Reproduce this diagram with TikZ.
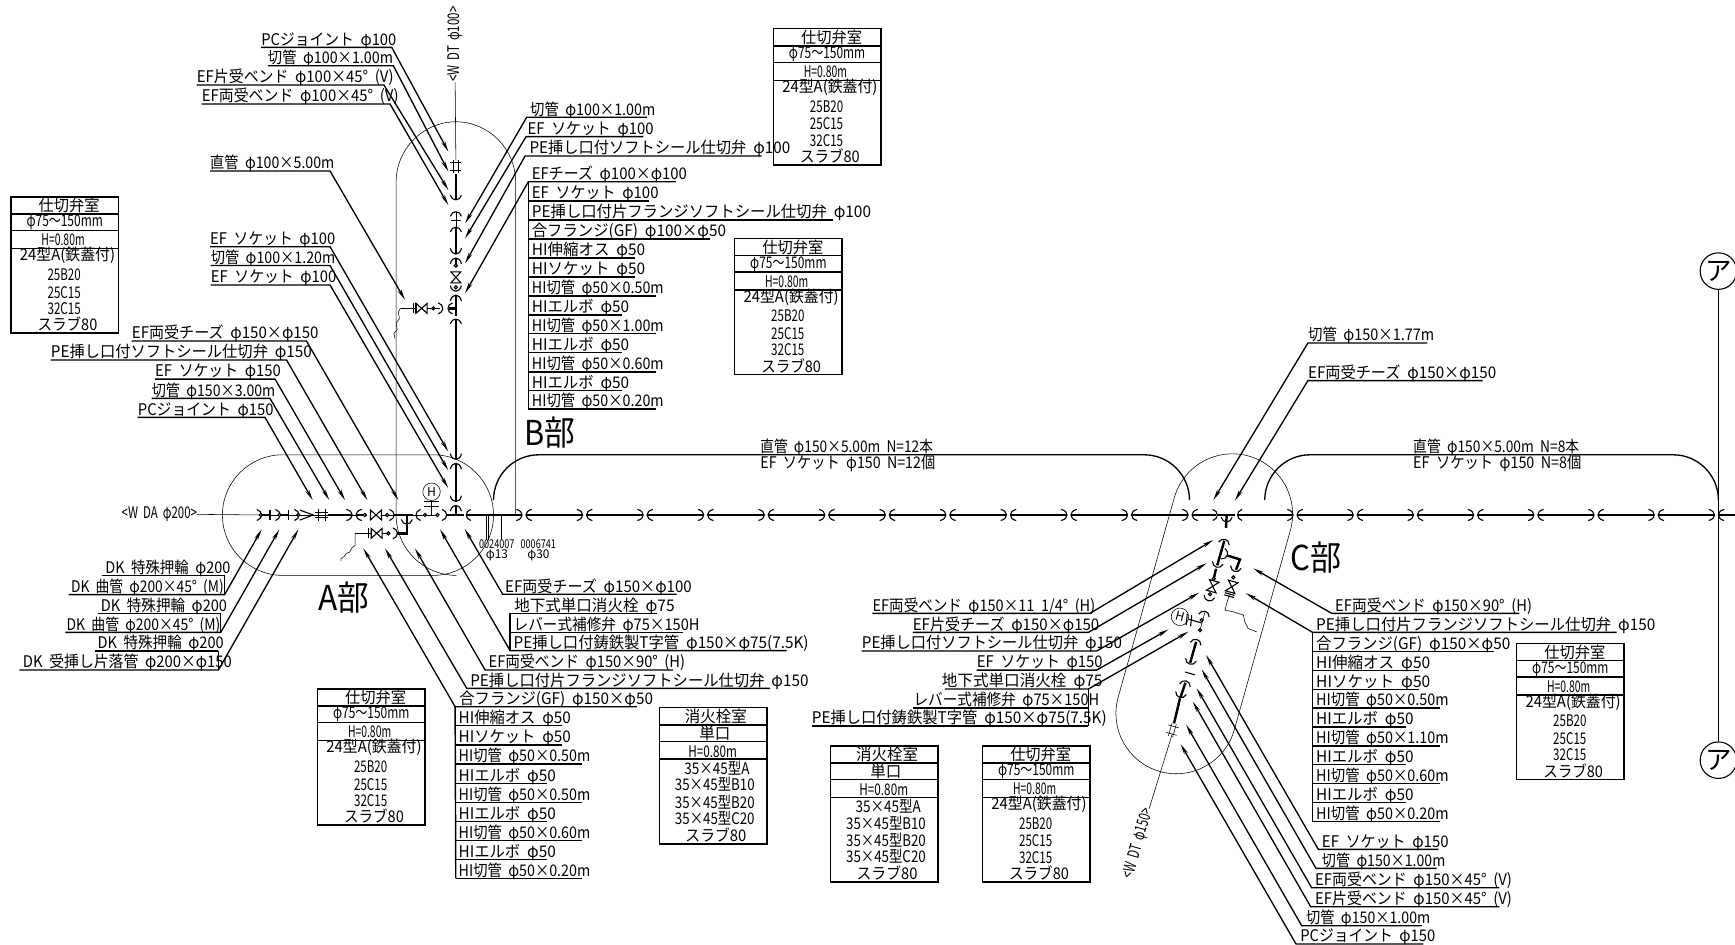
\documentclass[tikz,border=0pt]{standalone}
\usepackage{fontspec}
\usepackage{graphicx}
\setmainfont{Noto Sans CJK JP}
\usetikzlibrary{arrows.meta}

\newcommand{\cadfont}{\fontsize{14.5}{16}\selectfont\spaceskip=.45em\relax}

\tikzset{
  thinline/.style={line width=.5pt},
  ovalline/.style={line width=.5pt, rounded corners=54.5pt},
  bracket/.style={line width=1.2pt, rounded corners=41pt},
  pipe/.style={line width=2.2pt},
  bellline/.style={line width=1pt},
  under/.style={line width=1.3pt},
  leader/.style={line width=1.2pt, -{Stealth[length=10pt,width=3.6pt]}},
  boxline/.style={line width=1.3pt},
  pipelab/.style={anchor=base west, inner sep=0pt, font=\cadfont},
  cell/.style={inner sep=0pt, font=\cadfont},
  bigmark/.style={anchor=base west, inner sep=0pt, font=\fontsize{31}{33}\selectfont},
  smallnum/.style={inner sep=0pt, font=\fontsize{11}{12}\selectfont},
  cpl/.pic={
    \draw[bellline] (-7,-5) .. controls (0,-3.5) and (0,3.5) .. (-7,5);
    \draw[bellline] (7,-5) .. controls (0,-3.5) and (0,3.5) .. (7,5);
  },
  bell/.pic={\draw[bellline] (-3.5,-5) .. controls (2,-3.5) and (2,3.5) .. (-3.5,5);},
  valv/.pic={\draw[bellline, fill=white] (-5,-4.5) -- (5,4.5) -- (5,-4.5) -- (-5,4.5) -- cycle;},
  pdot/.pic={\draw[bellline, fill=white] (0,0) circle (1.4);},
  ptick/.pic={\draw[bellline] (0,-4.5) -- (0,4.5);},
  flng/.pic={\draw[bellline] (-1,-4.5) -- (-1,4.5) (1,-4.5) -- (1,4.5);},
  pcj/.pic={\draw[thinline] (-6,-2) -- (6,-2) (-6,2) -- (6,2) (-3.5,-5) -- (-3.5,5) (3.5,-5) -- (3.5,5);},
}

\newcommand{\putlabel}[5]{%
  \pgfmathsetmacro{\labw}{#3-#2}
  \node[pipelab] (#1) at (#2,#4-2) {\resizebox{\labw pt}{\height}{#5}};
}
\newcommand{\leadleft}[9]{%
  \putlabel{#1}{#2}{#3}{#4}{#9}
  \coordinate (#1-a) at (#5,#4);
  \coordinate (#1-b) at (#6,#4);
  \coordinate (#1-t) at (#7,#8);
  \draw[leader] (#1-b) -- (#1-a) -- (#1-t);
}
\newcommand{\leadright}[9]{%
  \putlabel{#1}{#2}{#3}{#4}{#9}
  \coordinate (#1-a) at (#5,#4);
  \coordinate (#1-b) at (#6,#4);
  \coordinate (#1-t) at (#7,#8);
  \draw[leader] (#1-a) -- (#1-b) -- (#1-t);
}
\newcommand{\stacklab}[7]{%
  \putlabel{#1}{#2}{#3}{#4}{#7}
  \coordinate (#1-a) at (#5,#4);
  \coordinate (#1-b) at (#6,#4);
  \draw[under] (#1-a) -- (#1-b);
}
\newcommand{\cellrow}[5]{\node[cell] (#1) at (#2,#3) {\resizebox{#4pt}{\height}{#5}};}
\newcommand{\roomframe}{%
  \draw[boxline] (0,0) rectangle (97,123);
  \draw[boxline] (0,15.5) -- (97,15.5);
  \draw[boxline] (0,30.5) -- (97,30.5);
  \draw[boxline] (0,46.5) -- (97,46.5);
}
\newcommand{\valvebox}[3]{%
  \begin{scope}[shift={(#2,#3)}]
    \roomframe
    \cellrow{#1-r1}{52.5}{8}{55}{仕切弁室}
    \cellrow{#1-r2}{48.5}{23}{69}{φ75〜150mm}
    \cellrow{#1-r3}{47}{39}{39}{H=0.80m}
    \cellrow{#1-r4}{51}{53}{86}{24型A(鉄蓋付)}
    \cellrow{#1-r5}{48}{70}{30}{25B20}
    \cellrow{#1-r6}{48}{86}{30}{25C15}
    \cellrow{#1-r7}{48}{101}{30}{32C15}
    \cellrow{#1-r8}{51}{115}{54}{スラブ80}
  \end{scope}
}
\newcommand{\hydrantbox}[3]{%
  \begin{scope}[shift={(#2,#3)}]
    \roomframe
    \cellrow{#1-r1}{51}{8}{56}{消火栓室}
    \cellrow{#1-r2}{50}{23.5}{28}{単口}
    \cellrow{#1-r3}{48}{40}{44}{H=0.80m}
    \cellrow{#1-r4}{52}{54.5}{59}{35×45型A}
    \cellrow{#1-r5}{50}{69.5}{72}{35×45型B10}
    \cellrow{#1-r6}{50}{85}{72}{35×45型B20}
    \cellrow{#1-r7}{50}{100}{72}{35×45型C20}
    \cellrow{#1-r8}{51}{115}{55}{スラブ80}
  \end{scope}
}

\begin{document}
\begin{tikzpicture}[x=1pt, y=-1pt]
  \useasboundingbox (0,0) rectangle (1568,854);

  \draw[ovalline] (201,411) rectangle (446,520);
  \draw[ovalline] (466,465.4) -- (466,110) -- (358,110) -- (358,520) -- (412,520);
  \draw[ovalline] (1140.8,569.5) -- (1180.9,426.9) -- (1076,397.4) -- (995.8,682.5) -- (1100.7,712) -- cycle;

  \valvebox{va}{10}{178}
  \valvebox{vb}{699}{26}
  \valvebox{vc}{664}{215.4}
  \valvebox{vd}{287}{622.7}
  \valvebox{ve}{888}{674}
  \valvebox{vf}{1370.7}{581.4}
  \hydrantbox{fa}{596}{639.6}
  \hydrantbox{fb}{750.7}{674}

  % main line
  \node[cell] (wda) at (144,464.5) {\resizebox{68pt}{\height}{<W DA φ200>}};
  \coordinate (ma) at (234,465.4);
  \draw[thinline] (wda) -- (ma);
  \draw[thinline] (ma) -- (332,465.4);
  \draw[thinline] (345,465.4) -- (395,465.4);
  \draw[pipe] (237,465.4) -- (243,465.4);
  \draw[pipe] (254,465.4) -- (260,465.4);
  \draw[pipe] (296.8,465.4) -- (318,465.4);
  \draw[pipe] (322,465.4) -- (328.4,465.4);
  \draw[pipe] (356,465.4) -- (373.6,465.4);
  \draw[pipe] (404,465.4) -- (419,465.4);
  \draw[pipe] (421.6,465.4) -- (471.6,465.4);
  \pic at (235.6,465.4) {bell};
  \pic at (235.6,465.4) {pdot};
  \pic at (244,465.4) {ptick};
  \pic at (252.5,465.4) {bell};
  \pic at (252.5,465.4) {pdot};
  \pic at (260.6,465.4) {ptick};
  \pic at (269.6,465.4) {bell};
  \pic at (269.6,465.4) {pdot};
  \draw[bellline] (271,461) -- (283,465.4) -- (271,470);
  \pic at (290.7,465.4) {pcj};
  \pic at (320,465.4) {cpl};
  \pic at (329.6,465.4) {pdot};
  \pic at (339.8,465.4) {valv};
  \pic at (350,465.4) {pdot};
  \pic at (355.5,465.4) {bell};
  \pic[rotate=180] at (376.6,465.4) {bell};
  \pic at (384,465.4) {pdot};
  \pic at (395.3,465.4) {pdot};
  \pic at (403,465.4) {bell};
  \pic[rotate=180] at (422,465.4) {bell};
  \foreach \k in {0,...,11} {
    \pgfmathsetmacro{\cx}{473.6+54.72*\k}
    \pic at (\cx,465.4) {cpl};
    \ifnum\k<11
      \draw[pipe] (\cx+2,465.4) -- (\cx+52.7,465.4);
    \fi
  }
  \draw[pipe] (1077.5,465.4) -- (1099,465.4);
  \draw[pipe] (1100,465.4) -- (1116,465.4);
  \draw[pipe] (1118.6,465.4) -- (1168.4,465.4);
  \pic at (1099.5,465.4) {bell};
  \pic[rotate=180] at (1119,465.4) {bell};
  \foreach \k in {0,...,7} {
    \pgfmathsetmacro{\cx}{1170.4+54.4*\k}
    \pic at (\cx,465.4) {cpl};
    \draw[pipe] (\cx+2,465.4) -- (\cx+52.4,465.4);
  }

  % A branch
  \draw[pipe] (367.6,465.4) -- (367.6,482) -- (359,482);
  \pic[rotate=-90] at (367.6,473) {bell};
  \pic at (358.5,482) {bell};
  \pic at (351,482) {pdot};
  \draw[thinline] (351,482) -- (334.4,482);
  \pic at (340.4,482) {valv};
  \pic at (334.4,482) {flng};
  \draw[bellline] (334.4,482) -- (321,482);
  \draw[thinline] (321,482) -- (321,493) -- (318,495) -- (316,499) -- (313,500) -- (311,503) -- (308,505) -- (308,507);
  \node[circle, draw, thinline, inner sep=0pt, minimum size=15.8pt, font=\fontsize{11}{12}\selectfont] (ha) at (390,444.4) {H};
  \coordinate (hab) at (390,465.4);
  \draw[bellline] (ha) -- (hab);
  \draw[bellline] (383,453.4) -- (397,453.4);
  \draw[bellline] (383,458) -- (397,458);

  % B line
  \node[cell, rotate=90] (wdb) at (411,40) {\resizebox{68pt}{\height}{<W DT φ100>}};
  \coordinate (mb) at (412,145);
  \draw[thinline] (wdb) -- (mb);
  \pic[rotate=-90] at (412,150.6) {pcj};
  \draw[pipe] (412,157) -- (412,180);
  \pic[rotate=-90] at (412,180) {bell};
  \pic[rotate=90] at (412,192) {bell};
  \pic[rotate=-90] at (412,199) {ptick};
  \draw[thinline] (412,192) -- (412,206);
  \pic[rotate=90] at (412,206) {bell};
  \draw[pipe] (412,206) -- (412,229.4);
  \pic[rotate=-90] at (412,231.4) {cpl};
  \draw[pipe] (412,233.4) -- (412,240);
  \pic at (412,240) {pdot};
  \pic[rotate=-90] at (412,250.7) {valv};
  \pic at (412,259.7) {pdot};
  \pic[rotate=-90] at (412,265) {cpl};
  \draw[pipe] (412,267) -- (412,286);
  \pic[rotate=90] at (412,289) {bell};
  \draw[pipe] (412,288.5) -- (412,415);
  \pic[rotate=-90] at (412,417) {cpl};
  \draw[pipe] (412,419) -- (412,453);
  \pic[rotate=-90] at (412,455) {cpl};
  \draw[pipe] (412,457) -- (412,465.4);

  % B branch
  \draw[pipe] (412,278.7) -- (406,278.7);
  \pic[rotate=180] at (405.5,278.7) {bell};
  \pic at (399.5,278.7) {bell};
  \pic at (391.7,278.7) {pdot};
  \draw[thinline] (398,278.7) -- (375,278.7);
  \pic at (381,278.7) {valv};
  \pic at (375,278.7) {flng};
  \draw[bellline] (375,278.7) -- (362,278.7);
  \draw[thinline] (362,278.7) -- (360,282) -- (361,288) -- (358,292) -- (359,298) -- (356,301) -- (357,306);

  % C line
  \coordinate (cs) at (1108.6,465.4);
  \coordinate (ce) at (1108,477);
  \draw[pipe] (cs) -- (ce);
  \pic[rotate=-90] at (1108.6,471) {bell};
  \pic[rotate=75] at (1107,488) {bell};
  \draw[pipe] (1106.5,488.6) -- (1100,511);
  \pic[rotate=-105.7] at (1099.6,512) {bell};
  \draw[pipe] (1099,514) -- (1097,522.7);
  \pic at (1097,523) {pdot};
  \pic[rotate=-105.7] at (1096,529.8) {valv};
  \pic at (1093.5,537) {pdot};
  \pic[rotate=-105.7] at (1092,542.3) {bell};
  \pic[rotate=74.3] at (1089,553) {bell};
  \pic at (1086,560.4) {pdot};
  \pic at (1084.5,569.5) {pdot};
  \draw[thinline] (1089,553) -- (1084.5,569.5);
  \pic[rotate=74.3] at (1081.5,578.5) {bell};
  \draw[pipe] (1081,580) -- (1075.6,599);
  \pic[rotate=-105.7] at (1075.4,599.6) {bell};
  \pic[rotate=-105.7] at (1075.4,608.6) {ptick};
  \pic[rotate=74.3] at (1071.8,616) {bell};
  \draw[pipe] (1071.3,617) -- (1067,630);
  \pic[rotate=-105.7] at (1066.4,629.7) {bell};
  \draw[pipe] (1066.4,631) -- (1061,653.8);
  \pic[rotate=-105.7] at (1059.5,659.8) {pcj};
  \node[cell, rotate=74] (wdc) at (1028.8,762.2) {\resizebox{65pt}{\height}{<W DT φ150>}};
  \coordinate (cb) at (1059.5,663);
  \draw[thinline] (cb) -- (wdc);

  % C branch
  \pic[rotate=-20] at (1108.6,501.6) {bell};
  \draw[pipe] (1109,502) -- (1120.6,505.6) -- (1117,515);
  \pic[rotate=-105.7] at (1116,515.8) {bell};
  \pic at (1114.6,521.8) {pdot};
  \pic[rotate=-105.7] at (1113.1,530.3) {valv};
  \pic[rotate=-105.7] at (1111,537.8) {flng};
  \draw[thinline] (1111,537.8) -- (1108.6,545.3) -- (1107,551.4) -- (1115,553) -- (1123.7,555.9) -- (1125,562) -- (1128,568) -- (1135.7,571);
  \node[circle, draw, thinline, inner sep=0pt, minimum size=15.8pt, rotate=-15, font=\fontsize{11}{12}\selectfont] (hc) at (1066.4,557.4) {H};
  \coordinate (hcb) at (1086,563);
  \draw[bellline] (hc) -- (hcb);
  \draw[bellline] (1073,555) -- (1072,565);
  \draw[bellline] (1077,556) -- (1076,566);

  % lateral lines under the main line
  \coordinate (na) at (439.3,488);
  \coordinate (nb) at (441.4,488);
  \coordinate (nc) at (453.4,488);
  \draw[bellline] (439.3,465.4) -- (na);
  \draw[bellline] (441.4,465.4) -- (nb);
  \draw[bellline] (453.4,465.4) -- (nc);
  \node[smallnum] (n1) at (449,491.5) {\resizebox{32pt}{\height}{0024007}};
  \node[smallnum] (n2) at (449,501.5) {\resizebox{20pt}{\height}{φ13}};
  \node[smallnum] (n3) at (486.5,491.5) {\resizebox{32pt}{\height}{0006741}};
  \node[smallnum] (n4) at (486.5,501.5) {\resizebox{20pt}{\height}{φ30}};

  % brackets
  \coordinate (ba) at (446,452);
  \coordinate (bb) at (1075,452);
  \coordinate (bc) at (1143,452);
  \coordinate (bd) at (1553,452);
  \draw[bracket] (ba) -- (446,411) -- (1075,411) -- (bb);
  \draw[bracket] (bc) -- (1143,411) -- (1553,411) -- (bd);
  \putlabel{da}{687}{843}{411}{直管 φ150×5.00m N=12本}
  \putlabel{db}{687}{845}{425}{EF ソケット φ150 N=12個}
  \putlabel{dc}{1277}{1427}{411}{直管 φ150×5.00m N=8本}
  \putlabel{dd}{1277}{1429}{425}{EF ソケット φ150 N=8個}

  % ア line
  \node[circle, draw, bellline, inner sep=0pt, minimum size=33pt, font=\fontsize{24}{26}\selectfont] (aa) at (1553,245) {ア};
  \node[circle, draw, bellline, inner sep=0pt, minimum size=33pt, font=\fontsize{24}{26}\selectfont] (ab) at (1553,687) {ア};
  \draw[under] (aa) -- (ab);

  \node[bigmark] (markA) at (287.7,552) {\resizebox{46pt}{\height}{A部}};
  \node[bigmark] (markB) at (474,403) {\resizebox{46pt}{\height}{B部}};
  \node[bigmark] (markC) at (1166,516) {\resizebox{46pt}{\height}{C部}};

  % B labels
  \leadright{p1}{236}{358}{42.8}{236}{354}{405.2}{137}{PCジョイント φ100}
  \leadright{p2}{242}{355}{59.4}{242}{355.5}{405.2}{155}{切管 φ100×1.00m}
  \leadright{p3}{177.8}{355.5}{76.8}{177.8}{347}{405.2}{171.7}{EF片受ベンド φ100×45° (V)}
  \leadright{p4}{182.3}{360}{94}{182.3}{352.5}{405.2}{185.3}{EF両受ベンド φ100×45° (V)}
  \leadright{p5}{189.8}{302}{154.6}{189.8}{298.3}{366}{271}{直管 φ100×5.00m}
  \leadright{p6}{189.8}{302.8}{223}{189.8}{298.3}{405}{408}{EF ソケット φ100}
  \leadright{p7}{190.4}{302.8}{240}{190.4}{298.3}{405}{425}{切管 φ100×1.20m}
  \leadright{p8}{190.4}{303.7}{257.6}{190.4}{298.3}{405}{441}{EF ソケット φ100}
  \leadleft{r1}{479}{592}{106}{476}{584.5}{420.3}{201.9}{切管 φ100×1.00m}
  \leadleft{r2}{476.6}{590.5}{123.5}{475.4}{581.5}{420.3}{215.4}{EF ソケット φ100}
  \leadleft{r3}{478.4}{714}{141}{474.5}{688.4}{420.3}{238}{PE挿し口付ソフトシール仕切弁 φ100}
  \leadleft{r4}{480.5}{620.6}{164.2}{477.5}{611}{420.3}{265}{EFチーズ φ100×φ100}
  \stacklab{s1}{480.5}{595}{181.6}{477.5}{586.6}{EF ソケット φ100}
  \stacklab{s2}{480.5}{787}{198.8}{477.5}{752.6}{PE挿し口付片フランジソフトシール仕切弁 φ100}
  \stacklab{s3}{480.5}{656}{216}{477.5}{641.7}{合フランジ(GF) φ100×φ50}
  \stacklab{s4}{480.5}{583}{233.2}{477.5}{574}{HI伸縮オス φ50}
  \stacklab{s5}{480.5}{583}{250.4}{477.5}{574}{HIソケット φ50}
  \stacklab{s6}{480.5}{599.6}{267.5}{477.5}{593}{HI切管 φ50×0.50m}
  \stacklab{s7}{480.5}{568.5}{284.7}{477.5}{562}{HIエルボ φ50}
  \stacklab{s8}{480.5}{599.6}{301.6}{477.5}{593}{HI切管 φ50×1.00m}
  \stacklab{s9}{480.5}{568.5}{318.7}{477.5}{562}{HIエルボ φ50}
  \stacklab{s10}{480.5}{599.6}{336}{477.5}{593}{HI切管 φ50×0.60m}
  \stacklab{s11}{480.5}{568.5}{353}{477.5}{562}{HIエルボ φ50}
  \stacklab{s12}{480.5}{599.6}{369.7}{477.5}{593}{HI切管 φ50×0.20m}
  \draw[under] (r4-a) -- (s12-a);

  % A labels
  \leadright{q1}{119}{287.7}{308.2}{119}{277}{360}{452}{EF両受チーズ φ150×φ150}
  \leadright{q2}{45.8}{281.7}{325.4}{45.8}{259}{332}{452}{PE挿し口付ソフトシール仕切弁 φ150}
  \leadright{q3}{140}{253.7}{342.6}{140}{248.6}{311.8}{452}{EF ソケット φ150}
  \leadright{q4}{137}{248.6}{360}{137}{244}{297.6}{452}{切管 φ150×3.00m}
  \leadright{q5}{124.4}{247}{377.2}{124.4}{239.5}{282.6}{452}{PCジョイント φ150}

  \stacklab{k1}{95}{208}{520.3}{92}{203}{DK 特殊押輪 φ200}
  \leadright{k2}{64}{202}{537.4}{62}{203}{236.5}{478.4}{DK 曲管 φ200×45° (M)}
  \stacklab{k3}{91}{205}{554.3}{89}{199.5}{DK 特殊押輪 φ200}
  \leadright{k4}{60}{199}{571.5}{59}{199.5}{252.5}{478.4}{DK 曲管 φ200×45° (M)}
  \stacklab{k5}{88}{202}{588.4}{86}{197.4}{DK 特殊押輪 φ200}
  \leadright{k6}{20.5}{209.4}{605.5}{17.5}{197.4}{269.7}{478.4}{DK 受挿し片落管 φ200×φ150}
  \draw[under] (k1-b) -- (k2-b);
  \draw[under] (k3-b) -- (k4-b);
  \draw[under] (k5-b) -- (k6-b);

  \leadleft{t1}{456.4}{625}{537.1}{454.3}{611.6}{420}{478}{EF両受チーズ φ150×φ100}
  \stacklab{t2}{464.6}{609.5}{554.3}{461}{593.5}{地下式単口消火栓 φ75}
  \stacklab{t3}{464}{632}{571.5}{461}{617.6}{レバー式補修弁 φ75×150H}
  \leadleft{t4}{464}{730.6}{588}{461}{711}{397.7}{478.4}{PE挿し口付鋳鉄製T字管 φ150×φ75(7.5K)}
  \draw[under] (t2-a) -- (t4-a);
  \leadleft{t5}{441.4}{619}{605.5}{438.4}{608}{375}{495.6}{EF両受ベンド φ150×90° (H)}
  \leadleft{t6}{424.8}{730.6}{622.1}{421.8}{696}{348}{495.6}{PE挿し口付片フランジソフトシール仕切弁 φ150}
  \leadleft{t7}{415}{590}{638.7}{411.3}{575.5}{328.4}{495.6}{合フランジ(GF) φ150×φ50}
  \stacklab{u1}{414.3}{515.8}{655.8}{411.9}{507.7}{HI伸縮オス φ50}
  \stacklab{u2}{414.3}{515.8}{673.3}{411.9}{507.7}{HIソケット φ50}
  \stacklab{u3}{414.3}{533.3}{690.5}{411.9}{525.7}{HI切管 φ50×0.50m}
  \stacklab{u4}{414.3}{502.2}{708}{411.9}{494.7}{HIエルボ φ50}
  \stacklab{u5}{414.3}{533.3}{725.2}{411.9}{525.7}{HI切管 φ50×0.50m}
  \stacklab{u6}{414.3}{502.2}{742.6}{411.9}{494.7}{HIエルボ φ50}
  \stacklab{u7}{414.3}{533.3}{759.8}{411.9}{525.7}{HI切管 φ50×0.60m}
  \stacklab{u8}{414.3}{502.2}{776.7}{411.9}{494.7}{HIエルボ φ50}
  \stacklab{u9}{414.3}{533.3}{793.8}{411.9}{525.7}{HI切管 φ50×0.20m}
  \draw[under] (t7-a) -- (u9-a);

  % C labels
  \leadleft{c1}{1182}{1296}{310}{1182}{1290}{1096.5}{452}{切管 φ150×1.77m}
  \leadleft{c2}{1182}{1352}{344}{1182}{1340}{1116}{452.5}{EF両受チーズ φ150×φ150}

  \leadright{w1}{788.4}{989.6}{554.3}{788.4}{985}{1096.5}{488}{EF両受ベンド φ150×11 1/4° (H)}
  \leadright{w2}{824.8}{993.3}{571.5}{825}{983.6}{1090.5}{509}{EF片受チーズ φ150×φ150}
  \leadright{w3}{778.7}{1013.8}{588.4}{778.7}{991}{1083.6}{535.7}{PE挿し口付ソフトシール仕切弁 φ150}
  \leadright{w4}{882.7}{996.3}{605.6}{882.7}{991}{1056}{568.8}{EF ソケット φ150}
  \leadright{w5}{851}{996.3}{622.7}{854}{983.6}{1074}{570.9}{地下式単口消火栓 φ75}
  \stacklab{w6}{825.4}{993.3}{640}{825.4}{983.6}{レバー式補修弁 φ75×150H}
  \stacklab{w7}{733.5}{1000}{656.2}{733.5}{983.6}{PE挿し口付鋳鉄製T字管 φ150×φ75(7.5K)}
  \draw[under] (w5-b) -- (w7-b);

  \leadleft{x1}{1206.5}{1384.3}{554.3}{1203.5}{1373}{1132.7}{513.7}{EF両受ベンド φ150×90° (H)}
  \leadleft{x2}{1189.3}{1495.8}{571.5}{1186.3}{1461}{1125.8}{536}{PE挿し口付片フランジソフトシール仕切弁 φ150}
  \stacklab{y0}{1189.3}{1364.7}{588.6}{1186.3}{1350.5}{合フランジ(GF) φ150×φ50}
  \stacklab{y1}{1189.3}{1292.4}{605.8}{1186.3}{1282.7}{HI伸縮オス φ50}
  \stacklab{y2}{1189.3}{1292.4}{623}{1186.3}{1282.7}{HIソケット φ50}
  \stacklab{y3}{1189.3}{1309}{640}{1186.3}{1301.4}{HI切管 φ50×0.50m}
  \stacklab{y4}{1189.3}{1277.3}{657}{1186.3}{1270.7}{HIエルボ φ50}
  \stacklab{y5}{1189.3}{1309}{674.2}{1186.3}{1301.4}{HI切管 φ50×1.10m}
  \stacklab{y6}{1189.3}{1277.3}{691}{1186.3}{1270.7}{HIエルボ φ50}
  \stacklab{y7}{1189.3}{1309}{708}{1186.3}{1301.4}{HI切管 φ50×0.60m}
  \stacklab{y8}{1189.3}{1277.3}{725.1}{1186.3}{1270.7}{HIエルボ φ50}
  \stacklab{y9}{1189.3}{1309}{742.6}{1186.3}{1301.4}{HI切管 φ50×0.20m}
  \draw[under] (x2-a) -- (y9-a);

  \leadleft{z1}{1194.5}{1309}{767.6}{1191.4}{1300}{1090}{592}{EF ソケット φ150}
  \leadleft{z2}{1194.5}{1306}{784.8}{1189.3}{1298.4}{1086}{605}{切管 φ150×1.00m}
  \leadleft{z3}{1188.4}{1366.2}{802.3}{1185.4}{1355}{1081.5}{622}{EF両受ベンド φ150×45° (V)}
  \leadleft{z4}{1188.4}{1366.2}{819.4}{1184.5}{1355}{1078}{634}{EF片受ベンド φ150×45° (V)}
  \leadleft{z5}{1180.3}{1292.4}{836.6}{1176.4}{1284.9}{1072}{655}{切管 φ150×1.00m}
  \leadleft{z6}{1174.9}{1296.9}{853.2}{1171.3}{1286.4}{1067}{672.5}{PCジョイント φ150}
\end{tikzpicture}
\end{document}
